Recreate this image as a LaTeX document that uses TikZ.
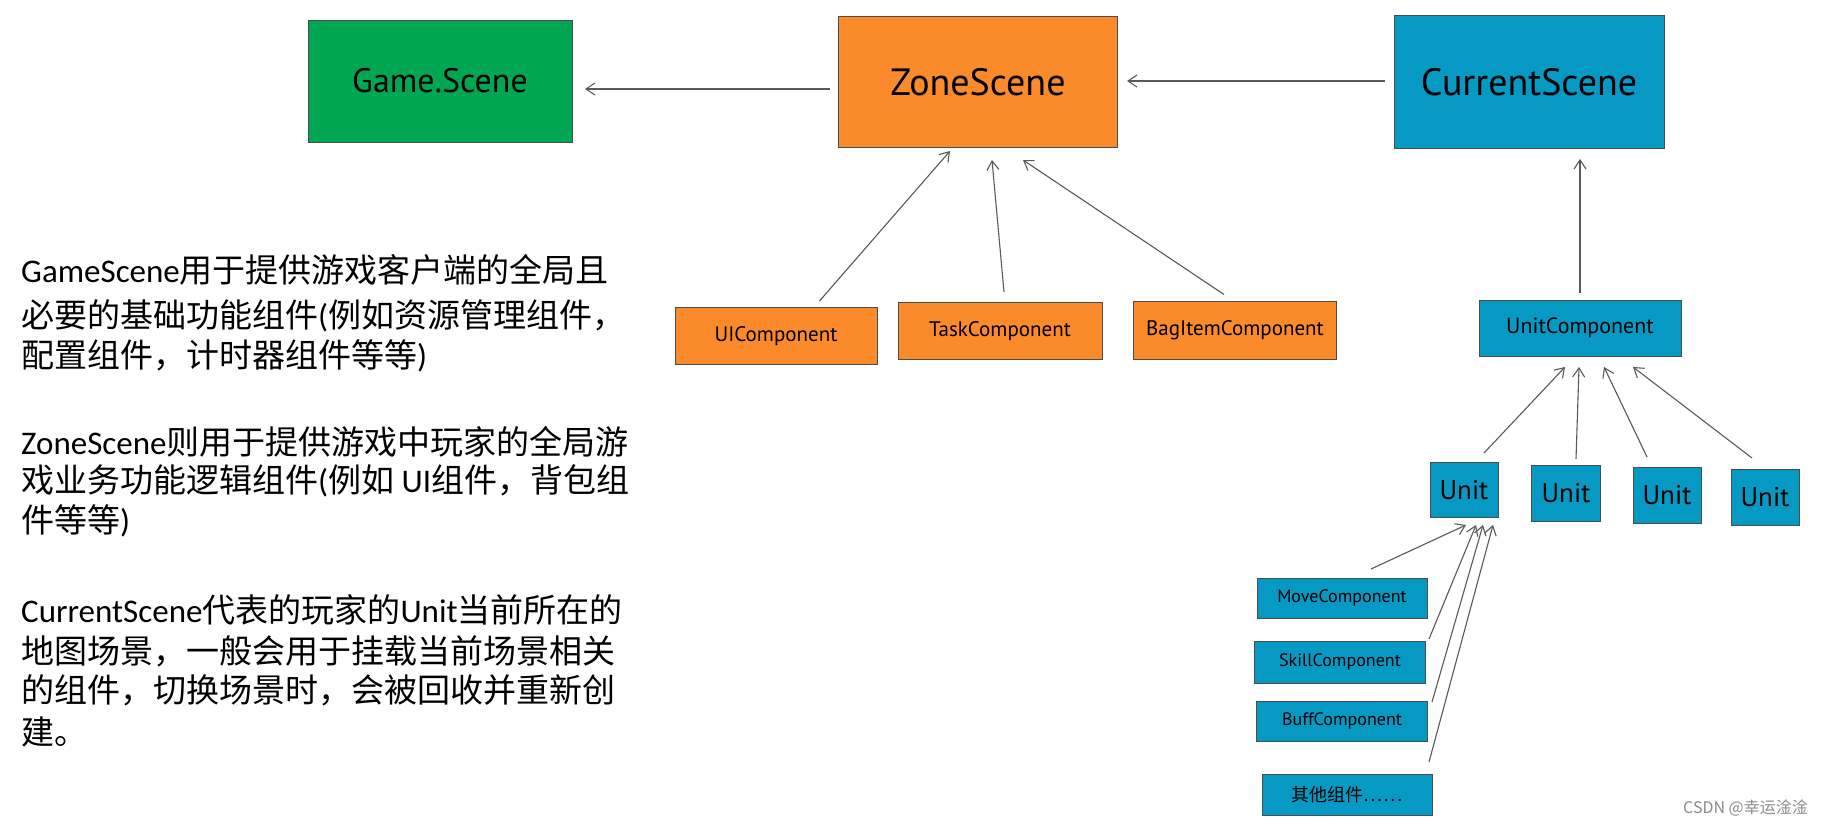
\documentclass[tikz,border=0pt]{standalone}
\usepackage{fontspec}
\setmainfont{Carlito}
\newfontfamily\cjk{Noto Sans CJK SC}
\newfontfamily\hand{PT Sans}
\begin{document}
\begin{tikzpicture}[x=1pt,y=-1pt,
  box/.style={draw=black!70,line width=1pt,inner sep=0pt,font=\hand},
  gr/.style={box,fill=gameg},
  og/.style={box,fill=zoneo},
  bl/.style={box,fill=curb},
  arr/.style={draw=black!65,line width=1.1pt,-{Straight Barb[length=9pt,width=12pt]}},
  txt/.style={anchor=west,inner sep=0pt,font=\fontsize{33}{33}\selectfont}]
\definecolor{gameg}{HTML}{00A651}
\definecolor{zoneo}{HTML}{FA8A2A}
\definecolor{curb}{HTML}{0699C4}
\useasboundingbox[fill=white] (0,0) rectangle (1822,830);
\usetikzlibrary{arrows.meta}
% top boxes
\node[gr,minimum width=264,minimum height=122,font=\hand\fontsize{34}{34}\selectfont] (game) at (440,81) {Game.Scene};
\node[og,minimum width=279,minimum height=131,font=\hand\fontsize{38}{38}\selectfont] (zone) at (978,82) {ZoneScene};
\node[bl,minimum width=270,minimum height=133,font=\hand\fontsize{38}{38}\selectfont] (cur) at (1529,82) {CurrentScene};
\coordinate (zg1) at (830,89); \coordinate (zg2) at (585,89);
\draw[arr] (zg1) -- (zg2);
\coordinate (cz1) at (1385,81); \coordinate (cz2) at (1127,81);
\draw[arr] (cz1) -- (cz2);
% zone components
\node[og,minimum width=202,minimum height=57,font=\hand\fontsize{21}{21}\selectfont] (ui) at (776,336) {UIComponent};
\node[og,minimum width=204,minimum height=57,font=\hand\fontsize{21}{21}\selectfont] (task) at (1000,331) {TaskComponent};
\node[og,minimum width=203,minimum height=58,font=\hand\fontsize{21}{21}\selectfont] (bag) at (1235,330) {BagItemComponent};
\coordinate (a1) at (950,151); \coordinate (a2) at (992,160); \coordinate (a3) at (1023,160);
\draw[arr] (ui.north west) ++(145,-6) coordinate (u0) (u0) -- (a1);
\draw[arr] (task.north) ++(4,-10) coordinate (t0) (t0) -- (a2);
\draw[arr] (bag.north west) ++(91,-6) coordinate (b0) (b0) -- (a3);
% unit component
\node[bl,minimum width=202,minimum height=56,font=\hand\fontsize{22}{22}\selectfont] (uc) at (1580,328) {UnitComponent};
\draw[arr] (uc.north) ++(0,-7) coordinate (uc0) (uc0) -- (1580,159);
\node[bl,minimum width=68,minimum height=55,font=\hand\fontsize{27}{27}\selectfont] (u1) at (1464,490) {Unit};
\node[bl,minimum width=69,minimum height=56,font=\hand\fontsize{27}{27}\selectfont] (u2) at (1566,493) {Unit};
\node[bl,minimum width=68,minimum height=56,font=\hand\fontsize{27}{27}\selectfont] (u3) at (1667,495) {Unit};
\node[bl,minimum width=68,minimum height=56,font=\hand\fontsize{27}{27}\selectfont] (u4) at (1765,497) {Unit};
\coordinate (t1) at (1565,367); \coordinate (t2) at (1579,367);
\coordinate (t3) at (1604,367); \coordinate (t4) at (1633,367);
\coordinate (s1) at (1484,453); \coordinate (s2) at (1576,459);
\coordinate (s3) at (1647,457); \coordinate (s4) at (1752,458);
\draw[arr] (s1) -- (t1); \draw[arr] (s2) -- (t2);
\draw[arr] (s3) -- (t3); \draw[arr] (s4) -- (t4);
% unit components
\node[bl,minimum width=170,minimum height=40,font=\hand\fontsize{18}{18}\selectfont] (mv) at (1342,598) {MoveComponent};
\node[bl,minimum width=171,minimum height=42,font=\hand\fontsize{18}{18}\selectfont] (sk) at (1340,662) {SkillComponent};
\node[bl,minimum width=171,minimum height=40,font=\hand\fontsize{18}{18}\selectfont] (bf) at (1342,721) {BuffComponent};
\node[bl,minimum width=170,minimum height=41,font=\cjk\fontsize{18}{18}\selectfont] (ot) at (1347,795) {其他组件……};
\coordinate (m0) at (1371,569); \coordinate (k0) at (1429,639);
\coordinate (f0) at (1432,702); \coordinate (o0) at (1429,762);
\coordinate (m1) at (1466,525); \coordinate (k1) at (1476,525);
\coordinate (f1) at (1483,525); \coordinate (o1) at (1493,525);
\draw[arr] (m0) -- (m1); \draw[arr] (k0) -- (k1);
\draw[arr] (f0) -- (f1); \draw[arr] (o0) -- (o1);
% text
\node[txt] (p1) at (21,270) {GameScene{\cjk 用于提供游戏客户端的全局且}};
\node[txt] (p2) at (21,316) {{\cjk 必要的基础功能组件}({\cjk 例如资源管理组件，}};
\node[txt] (p3) at (21,356) {{\cjk 配置组件，计时器组件等等})};
\node[txt] (q1) at (21,442) {ZoneScene{\cjk 则用于提供游戏中玩家的全局游}};
\node[txt] (q2) at (21,481) {{\cjk 戏业务功能逻辑组件}({\cjk 例如} UI{\cjk 组件，背包组}};
\node[txt] (q3) at (21,521) {{\cjk 件等等})};
\node[txt] (r1) at (21,610) {CurrentScene{\cjk 代表的玩家的}Unit{\cjk 当前所在的}};
\node[txt] (r2) at (21,651) {{\cjk 地图场景，一般会用于挂载当前场景相关}};
\node[txt] (r3) at (21,690) {{\cjk 的组件，切换场景时，会被回收并重新创}};
\node[txt] (r4) at (21,732) {{\cjk 建。}};
\node[anchor=east,inner sep=0pt,text=black!45,font=\cjk\fontsize{16}{16}\selectfont] (wm) at (1808,808) {CSDN @幸运淦淦};
\end{tikzpicture}
\end{document}
